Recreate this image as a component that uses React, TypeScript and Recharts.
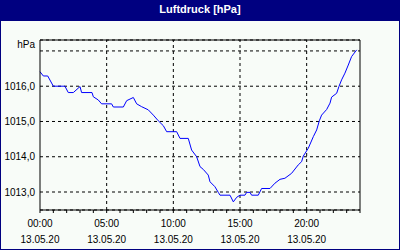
import React from 'react';
import { LineChart, Line, XAxis, YAxis, CartesianGrid, ReferenceLine } from 'recharts';

const hours = [
  0.0, 0.25, 0.58, 1.0, 1.87, 2.12, 2.5, 3.0, 3.12, 3.9, 4.0, 4.37, 4.62, 5.37, 5.5, 6.25,
  6.5, 7.0, 7.25, 7.62, 8.12, 8.5, 8.87, 9.25, 9.5, 10.25, 10.5, 11.12, 11.37, 11.75, 12.0,
  12.25, 12.62, 12.75, 13.12, 13.37, 13.5, 14.25, 14.5, 14.75, 15.0, 15.37, 15.5, 15.75,
  15.87, 16.37, 16.62, 17.25, 17.62, 18.0, 18.37, 18.87, 19.37, 19.62, 19.75, 20.12, 20.5,
  20.75, 20.95, 21.12, 21.5, 21.75, 21.87, 22.25, 22.42, 22.62, 22.87, 23.12, 23.37, 23.75,
];
const pressure = [
  1016.41, 1016.29, 1016.29, 1016.0, 1016.0, 1015.82, 1015.82, 1015.99, 1015.82, 1015.82,
  1015.7, 1015.61, 1015.5, 1015.5, 1015.41, 1015.41, 1015.59, 1015.68, 1015.5, 1015.42,
  1015.33, 1015.18, 1015.02, 1014.88, 1014.71, 1014.71, 1014.52, 1014.52, 1014.19, 1014.0,
  1013.72, 1013.64, 1013.48, 1013.29, 1013.15, 1012.99, 1012.91, 1012.91, 1012.72, 1012.85,
  1012.91, 1012.91, 1012.99, 1012.99, 1012.91, 1012.91, 1013.1, 1013.1, 1013.25, 1013.36,
  1013.39, 1013.53, 1013.77, 1013.86, 1014.02, 1014.24, 1014.57, 1014.76, 1015.02, 1015.18,
  1015.34, 1015.52, 1015.69, 1015.8, 1015.99, 1016.18, 1016.37, 1016.6, 1016.84, 1017.03,
];

const hourTicks = [0, 1, 2, 3, 4, 5, 6, 7, 8, 9, 10, 11, 12, 13, 14, 15, 16, 17, 18, 19, 20, 21, 22, 23, 24];
const majorHours = [5, 10, 15, 20];
const labelHours = [0, 5, 10, 15, 20];
const timeLabels = ['00:00', '05:00', '10:00', '15:00', '20:00'];
const dateLabel = '13.05.20';
const yTicks = [1013, 1014, 1015, 1016, 1017];
const yTickLabels = ['1013,0', '1014,0', '1015,0', '1016,0', ''];
const yDomain = [1012.49, 1017.31];
const xDomain = [0, 24];
const title = 'Luftdruck [hPa]';
const unit = 'hPa';

const data = hours.map((h, i) => ({ h, p: pressure[i] }));

const FONT = '"Liberation Sans", Arial, sans-serif';

const XTick = (props: any) => {
  const { x, y, payload } = props;
  const idx = labelHours.indexOf(payload.value);
  if (idx < 0) return <g />;
  return (
    <g>
      <text x={x} y={y + 12} textAnchor="middle" fontFamily={FONT} fontSize={10} fill="#000">
        {timeLabels[idx]}
      </text>
      <text x={x} y={y + 27.5} textAnchor="middle" fontFamily={FONT} fontSize={10} fill="#000">
        {dateLabel}
      </text>
    </g>
  );
};

export default function App() {
  return (
    <div style={{ position: 'absolute', left: 0, top: 0, width: 400, height: 250, background: '#000080' }}>
      <div
        style={{
          position: 'absolute', left: 0, top: 0, width: 400, height: 20, color: '#fff',
          fontFamily: FONT, fontWeight: 'bold', fontSize: 11, textAlign: 'center', lineHeight: '19px',
        }}
      >
        {title}
      </div>
      <div style={{ position: 'absolute', left: 1, top: 21, width: 398, height: 228, background: '#f8fcf8' }} />
      <div
        style={{
          position: 'absolute', left: 0, top: 38, width: 35, textAlign: 'right',
          fontFamily: FONT, fontSize: 10, color: '#000', lineHeight: '14px',
        }}
      >
        {unit}
      </div>
      <div style={{ position: 'absolute', left: 0, top: 0 }}>
        <LineChart width={400} height={250} data={data} margin={{ top: 40, right: 40, bottom: 0, left: 0 }}>
          <CartesianGrid vertical={false} stroke="#000" strokeDasharray="3 3" />
          {majorHours.map((h) => (
            <ReferenceLine key={h} x={h} stroke="#000" strokeDasharray="3 3" />
          ))}
          <ReferenceLine x={xDomain[1]} stroke="#000" />
          <ReferenceLine y={yDomain[1]} stroke="#000" />
          <XAxis
            dataKey="h"
            type="number"
            domain={xDomain}
            ticks={hourTicks}
            interval={0}
            height={40}
            tickSize={3}
            tickMargin={2}
            axisLine={{ stroke: '#000' }}
            tickLine={{ stroke: '#000' }}
            tick={<XTick />}
          />
          <YAxis
            type="number"
            domain={yDomain}
            ticks={yTicks}
            width={40}
            tickSize={0}
            tickMargin={5}
            axisLine={{ stroke: '#000' }}
            tickLine={false}
            tickFormatter={(v: number) => yTickLabels[yTicks.indexOf(v)]}
            tick={{ fontFamily: FONT, fontSize: 10, fill: '#000' }}
          />
          <Line
            dataKey="p"
            type="linear"
            stroke="#0000ff"
            strokeWidth={1}
            dot={false}
            isAnimationActive={false}
          />
        </LineChart>
      </div>
    </div>
  );
}
